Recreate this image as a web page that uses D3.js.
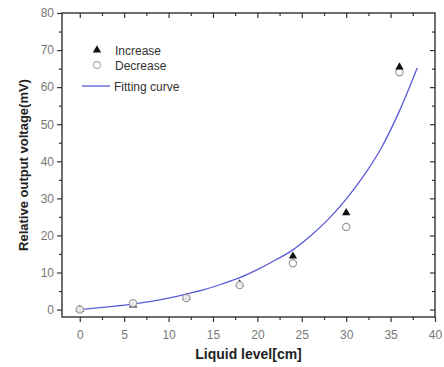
<!DOCTYPE html>
<html>
<head>
<meta charset="utf-8">
<script src="https://cdn.jsdelivr.net/npm/d3@7"></script>
<style>
  html, body { margin: 0; padding: 0; background: #fff; }
  svg { display: block; font-family: "Liberation Sans", Arial, sans-serif; }
</style>
</head>
<body>
<svg id="chart" width="444" height="367"></svg>
<script>
// Measured liquid levels (cm)
const levels = [0, 6, 12, 18, 24, 30, 36];
// Relative output voltage (mV) while the level rises / falls
const increaseValues = [0, 1.2, 3.2, 6.9, 14.4, 26.1, 65.4];
const decreaseValues = [0, 1.7, 3.1, 6.6, 12.5, 22.3, 64.0];
// Fitted curve, sampled along the level axis
const fitLevels = [0, 2, 4, 6, 8, 10, 12, 14, 16, 18, 20, 22, 24, 26, 28, 30, 32, 34, 36, 38];
const fitValues = [0, 0.45, 0.95, 1.5, 2.2, 3.1, 4.2, 5.4, 6.9, 8.6, 10.8, 13.3, 16.1, 19.9, 24.4, 29.8, 36.2, 43.8, 53.6, 65.2];
// Axis ticks
const xTicks = [0, 5, 10, 15, 20, 25, 30, 35, 40];
const yTicks = [0, 10, 20, 30, 40, 50, 60, 70, 80];
const xMinor = [2.5, 7.5, 12.5, 17.5, 22.5, 27.5, 32.5, 37.5];
const yMinor = [5, 15, 25, 35, 45, 55, 65, 75];
// Legend entries
const legendLabels = ["Increase", "Decrease", "Fitting curve"];

const svg = d3.select("#chart");
const plotLeft = 62, plotRight = 435, plotTop = 13, plotBottom = 317;

const x = d3.scaleLinear().domain([-2, 40]).range([plotLeft, plotRight]);
const y = d3.scaleLinear().domain([-2, 80]).range([plotBottom, plotTop]);

const axisColor = "#333";
const tickColor = "#777";

// Frame
svg.append("rect")
  .attr("x", plotLeft).attr("y", plotTop)
  .attr("width", plotRight - plotLeft).attr("height", plotBottom - plotTop)
  .attr("fill", "none").attr("stroke", axisColor).attr("stroke-width", 1.4);

function styleAxis(g) {
  g.select(".domain").remove();
  g.selectAll(".tick line").attr("stroke", axisColor).attr("stroke-width", 1.2);
  g.selectAll(".tick text").attr("fill", tickColor)
    .style("font-size", "12px");
}

// Bottom axis: major labelled ticks + minor ticks
svg.append("g").attr("transform", `translate(0,${plotBottom})`)
  .call(d3.axisBottom(x).tickValues(xTicks).tickSize(5).tickPadding(8).tickFormat(d3.format("d")))
  .call(styleAxis);
svg.append("g").attr("transform", `translate(0,${plotBottom})`)
  .call(d3.axisBottom(x).tickValues(xMinor).tickSize(3).tickFormat(""))
  .call(styleAxis);

// Left axis
svg.append("g").attr("transform", `translate(${plotLeft},0)`)
  .call(d3.axisLeft(y).tickValues(yTicks).tickSize(5).tickPadding(3).tickFormat(d3.format("d")))
  .call(styleAxis);
svg.append("g").attr("transform", `translate(${plotLeft},0)`)
  .call(d3.axisLeft(y).tickValues(yMinor).tickSize(3).tickFormat(""))
  .call(styleAxis);

// Top and right axes: ticks pointing into the plot
svg.append("g").attr("transform", `translate(0,${plotTop})`)
  .call(d3.axisBottom(x).tickValues(xTicks.filter(d => d < 40)).tickSize(5).tickFormat(""))
  .call(styleAxis);
svg.append("g").attr("transform", `translate(0,${plotTop})`)
  .call(d3.axisBottom(x).tickValues(xMinor).tickSize(3).tickFormat(""))
  .call(styleAxis);
svg.append("g").attr("transform", `translate(${plotRight},0)`)
  .call(d3.axisLeft(y).tickValues(yTicks.filter(d => d < 80)).tickSize(5).tickFormat(""))
  .call(styleAxis);
svg.append("g").attr("transform", `translate(${plotRight},0)`)
  .call(d3.axisLeft(y).tickValues(yMinor).tickSize(3).tickFormat(""))
  .call(styleAxis);

// Fitted curve
const fitData = fitLevels.map((lv, i) => [lv, fitValues[i]]);
svg.append("path")
  .datum(fitData)
  .attr("fill", "none")
  .attr("stroke", "#5b5bd8")
  .attr("stroke-width", 1.3)
  .attr("d", d3.line().x(d => x(d[0])).y(d => y(d[1])).curve(d3.curveMonotoneX));

const decData = levels.map((lv, i) => [lv, decreaseValues[i]]);
const incData = levels.map((lv, i) => [lv, increaseValues[i]]);
const tri = d3.symbol().type(d3.symbolTriangle).size(30);

function drawCircles(data) {
  svg.append("g").selectAll("circle").data(data).join("circle")
    .attr("cx", d => x(d[0])).attr("cy", d => y(d[1])).attr("r", 3.6)
    .attr("fill", "#fff").attr("fill-opacity", 0.9)
    .attr("stroke", "#9a9a9a").attr("stroke-width", 1.2);
}

// Decrease: open grey circles (upper points sit under the triangles)
drawCircles(decData.filter(d => d[0] > 20));

// Increase: filled black triangles
svg.append("g").selectAll("path").data(incData).join("path")
  .attr("transform", d => `translate(${x(d[0])},${y(d[1])})`)
  .attr("d", tri)
  .attr("fill", "#111");

// Lower decrease points drawn above the overlapping triangles
drawCircles(decData.filter(d => d[0] <= 20));

// Legend
const legend = svg.append("g").style("font-size", "12px").attr("fill", "#333");
legend.append("path").attr("transform", "translate(97,50)").attr("d", tri).attr("fill", "#111");
legend.append("circle").attr("cx", 97).attr("cy", 65).attr("r", 3.4)
  .attr("fill", "#fff").attr("stroke", "#aaa").attr("stroke-width", 1.1);
legend.append("line").attr("x1", 82).attr("x2", 110).attr("y1", 86).attr("y2", 86)
  .attr("stroke", "#5b5bd8").attr("stroke-width", 1.3);
legend.append("text").attr("x", 115).attr("y", 54.5).text(legendLabels[0]);
legend.append("text").attr("x", 115).attr("y", 69.5).text(legendLabels[1]);
legend.append("text").attr("x", 114).attr("y", 90.5).text(legendLabels[2]);

// Axis titles
svg.append("text")
  .attr("x", (plotLeft + plotRight) / 2).attr("y", 359)
  .attr("text-anchor", "middle")
  .style("font-size", "14px").style("font-weight", "bold").attr("fill", "#222")
  .text("Liquid level[cm]");
svg.append("text")
  .attr("transform", `translate(28,${(plotTop + plotBottom) / 2}) rotate(-90)`)
  .attr("text-anchor", "middle")
  .style("font-size", "13px").style("font-weight", "bold").attr("fill", "#222")
  .text("Relative output voltage(mV)");
</script>
</body>
</html>
